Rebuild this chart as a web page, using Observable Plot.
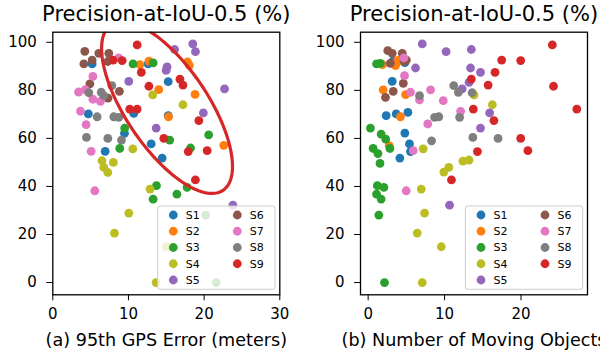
<!DOCTYPE html>
<html>
<head>
<meta charset="utf-8">
<script src="https://cdn.jsdelivr.net/npm/d3@7"></script>
<script src="https://cdn.jsdelivr.net/npm/@observablehq/plot@0.6"></script>
<style>
  html, body { margin: 0; padding: 0; background: white; }
  #wrap { display: flex; width: 600px; height: 356px; overflow: hidden; }
  #wrap svg { flex: 0 0 300px; }
</style>
</head>
<body>
<div id="wrap"></div>
<script>
// ---------- data ----------
const seriesNames = ["S1", "S2", "S3", "S4", "S5", "S6", "S7", "S8", "S9"];
const seriesColors = ["#1f77b4", "#ff7f0e", "#2ca02c", "#bcbd22", "#9467bd", "#8c564b", "#e377c2", "#7f7f7f", "#d62728"];

const panelTitle = "Precision-at-IoU-0.5 (%)";
const gpsLabel = "(a) 95th GPS Error (meters)";
const movLabel = "(b) Number of Moving Objects";
const gpsTicks = [0, 10, 20, 30];
const movTicks = [0, 10, 20];
const precisionTicks = [0, 20, 40, 60, 80, 100];

// (a) [95th GPS error, precision]
const gpsS1 = [[5.2,91],[4.7,70.2],[10.7,70.4],[9.47,62.1],[6.92,54.6],[13.0,57.7],[14.45,51.8],[15.25,83.6],[15.25,69.5],[12.6,91]];
const gpsS2 = [[11.5,90.7],[12.7,92.2],[14.0,80.3],[15.3,69],[17.8,91.8],[18.05,90.4],[18.8,78.3],[22.6,57.1]];
const gpsS3 = [[10.6,91],[13.26,91.4],[9.5,64.3],[8.85,55.8],[15.45,59.3],[18.2,56],[20.6,61.5],[13.7,40.3],[13.26,34.7],[16.4,36.8],[17.75,39.6],[20.2,28.1],[21.6,0]];
const gpsS4 = [[13.2,78.1],[17.2,74],[10.57,55.6],[6.5,50.7],[8.0,50],[6.74,47.9],[7.27,45.8],[12.85,38.9],[10.04,28.9],[8.15,20.6],[15.0,14.9],[13.65,0]];
const gpsS5 = [[16.1,97],[18.5,99.3],[18.85,96.1],[15.1,89.75],[14.98,88.3],[10.04,83.7],[22.7,80.6],[19.9,70.6],[13.66,64.3],[23.8,32.2]];
const gpsS6 = [[4.23,96.25],[4.1,91],[5.2,92.6],[6.08,95.4],[7.4,95.4],[7.27,92],[4.9,82.7],[8.8,79.6],[7.3,76.8]];
const gpsS7 = [[8.7,93.5],[5.3,85.8],[3.4,79.3],[4.3,80.3],[5.3,76.3],[6.3,75.4],[3.66,71.3],[4.4,65.7],[5.07,54.6],[5.55,38.2]];
const gpsS8 = [[4.76,79],[6.4,79.2],[6.74,77.8],[7.8,82],[5.86,69],[8.06,69],[8.72,68.75],[4.45,60.4],[7.27,60],[9.08,59.3]];
const gpsS9 = [[11.15,98.9],[7.98,92.6],[9.17,92.4],[11.7,87.5],[12.7,81.7],[16.8,84.7],[17.2,82.2],[10.17,72.2],[11.15,72.2],[19.3,67.4],[14.67,60],[17.9,54.5],[20.4,54.9],[18.85,42.7]];

// (b) [number of moving objects, precision]
const movS1 = [[3.2,92],[4.8,91.5],[3.15,83.75],[2.36,69.5],[3.67,70.2],[5.2,70.8],[4.8,62.2],[5.41,57.7],[5.54,54.5],[4.15,51.8]];
const movS2 = [[1.87,90.7],[3.9,92.5],[1.97,80.2],[4.23,69],[3.75,91.5],[3.58,90.3],[4.9,78.2],[2.75,57]];
const movS3 = [[1.1,91],[1.6,91.25],[0.3,64.3],[1.7,61.8],[2.3,59.7],[2.85,55.8],[0.65,55.8],[1.28,53.7],[1.55,49.6],[1.2,40.3],[2.05,39.6],[1.1,36.8],[1.7,34.75],[1.4,28.1],[2.14,0]];
const movS4 = [[13.85,78.1],[16.25,74],[7.2,55.6],[12.4,50.5],[13.2,51],[10.55,47.9],[9.9,46],[6.95,38.9],[7.38,28.9],[6.42,20.6],[9.57,14.9],[7.08,0]];
const movS5 = [[7.08,99.3],[10.2,96.1],[13.5,97],[6.2,89.3],[13.4,89.3],[14.7,87.5],[13.2,83.3],[12.3,80.6],[15.9,70.6],[14.7,64.3],[10.65,32.2]];
const movS6 = [[2.57,96.5],[3.15,95.4],[4.46,95.4],[5.0,92.6],[4.7,92.2],[2.9,91.25],[4.6,82.9],[3.28,79.6],[2.27,77.1]];
const movS7 = [[4.67,93.5],[4.76,86.1],[8.17,80.2],[5.54,79.2],[6.72,76],[9.83,75.7],[12.1,71.25],[7.8,66],[5.9,54.9],[4.98,38.2]];
const movS8 = [[6.72,77.8],[11.2,82],[11.8,79.2],[13.6,79],[8.7,68.75],[9.25,69],[11.97,68.75],[8.3,59],[13.7,60.4],[17.0,60]];
const movS9 = [[24.1,98.9],[17.47,92.6],[19.96,92.4],[16.6,87.5],[13.5,84.7],[15.7,82.2],[24.25,81.7],[13.76,72.2],[27.3,72.2],[16.46,67.4],[19.96,60],[20.9,54.9],[14.3,54.5],[10.9,42.7]];

// highlight ellipse on panel (a): centre in data units, semi-axes in px, rotation in degrees
const ellipseCenter = [15.1, 72.9];
const ellipseRadiiPx = [100, 41];
const ellipseAngleDeg = 56;

// ---------- build ----------
const gpsSeries = [gpsS1, gpsS2, gpsS3, gpsS4, gpsS5, gpsS6, gpsS7, gpsS8, gpsS9];
const movSeries = [movS1, movS2, movS3, movS4, movS5, movS6, movS7, movS8, movS9];
const toRows = (list) => list.flatMap((pts, i) => pts.map(([x, y]) => ({series: seriesNames[i], x, y})));

const W = 300, H = 356, MT = 31.7, MB = 61.7;
const yDomain = [-5.1, 104.2];
const FONT = "DejaVu Sans";

function addLegend(svg, frameRight, frameBottom) {
  const bw = 117.3, bh = 83.3;
  const bx = frameRight - 4.3 - bw, by = frameBottom - 5 - bh;
  const g = d3.select(svg).append("g").attr("font-family", FONT).attr("font-size", 11);
  g.append("rect").attr("x", bx).attr("y", by).attr("width", bw).attr("height", bh)
    .attr("rx", 2.5).attr("fill", "white").attr("fill-opacity", 0.8)
    .attr("stroke", "#cccccc").attr("stroke-width", 1);
  seriesNames.forEach((name, i) => {
    const col = i < 5 ? 0 : 1, row = i < 5 ? i : i - 5;
    const cy = by + 9 + row * 16.25;
    g.append("circle").attr("cx", bx + 15.6 + col * 64).attr("cy", cy).attr("r", 4.4).attr("fill", seriesColors[i]);
    g.append("text").attr("x", bx + 35 + col * 64).attr("y", cy).attr("dy", "0.36em").attr("fill", "black").text(name);
  });
}

function panel({rows, xDomain, xTicks, ml, mr, xlabel, extra = []}) {
  return Plot.plot({
    width: W, height: H,
    marginLeft: ml, marginRight: mr, marginTop: MT, marginBottom: MB,
    style: {fontFamily: FONT, fontSize: "15px", background: "white", color: "black"},
    x: {domain: xDomain, ticks: xTicks, tickSize: 6, tickPadding: 8, label: null},
    y: {domain: yDomain, ticks: precisionTicks, tickSize: 6, tickPadding: 10, label: null},
    color: {domain: seriesNames, range: seriesColors},
    marks: [
      Plot.dot(rows, {x: "x", y: "y", fill: "series", r: 4.4, stroke: null}),
      ...extra,
      Plot.frame({stroke: "black", strokeWidth: 1.3}),
      Plot.text([panelTitle], {frameAnchor: "top", lineAnchor: "bottom", dy: -11.7, fontSize: 21, fill: "black", text: d => d}),
      Plot.text([xlabel], {frameAnchor: "bottom", lineAnchor: "bottom", dy: 50.7, fontSize: 17.6, fill: "black", text: d => d})
    ]
  });
}

// ellipse points for panel (a)
const mlA = 52.3, mrA = 20.7;
const kx = (W - mlA - mrA) / 30;
const ky = (H - MT - MB) / (yDomain[1] - yDomain[0]);
const th = ellipseAngleDeg * Math.PI / 180;
const ellipsePts = d3.range(0, 361, 2).map(deg => {
  const t = deg * Math.PI / 180;
  const [a, b] = ellipseRadiiPx;
  const dxp = a * Math.cos(t) * Math.cos(th) - b * Math.sin(t) * Math.sin(th);
  const dyp = a * Math.cos(t) * Math.sin(th) + b * Math.sin(t) * Math.cos(th);
  return {x: ellipseCenter[0] + dxp / kx, y: ellipseCenter[1] - dyp / ky};
});

const svgA = panel({
  rows: toRows(gpsSeries), xDomain: [0, 30], xTicks: gpsTicks, ml: mlA, mr: mrA, xlabel: gpsLabel,
  extra: [Plot.line(ellipsePts, {x: "x", y: "y", stroke: "#d62728", strokeWidth: 3.2, clip: true, curve: "linear"})]
});
addLegend(svgA, W - mrA, H - MB);

const mlB = 60, mrB = 13;
const svgB = panel({
  rows: toRows(movSeries), xDomain: [-1.0, 28.7], xTicks: movTicks, ml: mlB, mr: mrB, xlabel: movLabel
});
addLegend(svgB, W - mrB, H - MB);

const wrap = document.getElementById("wrap");
wrap.appendChild(svgA);
wrap.appendChild(svgB);
</script>
</body>
</html>
